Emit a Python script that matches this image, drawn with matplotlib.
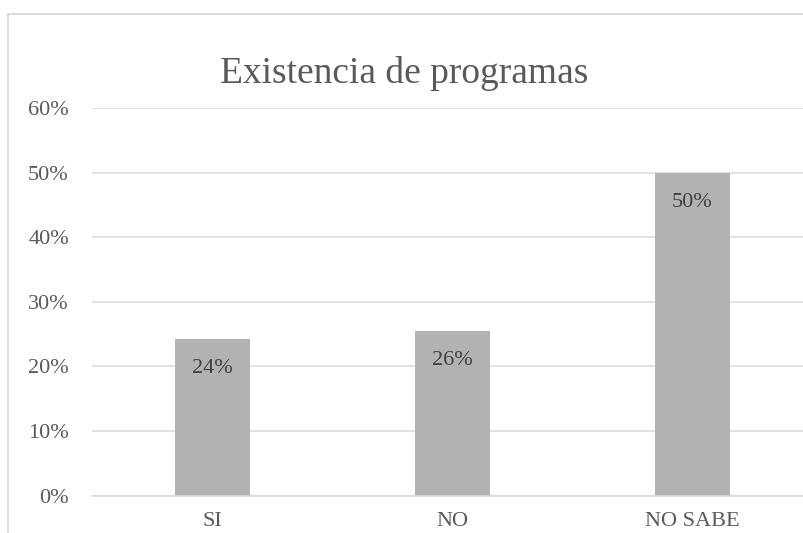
import matplotlib
matplotlib.use("Agg")
import matplotlib.pyplot as plt
from matplotlib.patches import Rectangle
from matplotlib.ticker import PercentFormatter

categories = ["SI", "NO", "NO SABE"]
values = [0.2427, 0.2556, 0.50]
labels = ["24%", "26%", "50%"]
yticks = [0, 0.1, 0.2, 0.3, 0.4, 0.5, 0.6]

plt.rcParams['font.family'] = ['Liberation Serif', 'DejaVu Serif']
text_color = '#595959'
grid_color = '#D9D9D9'
bar_color = '#B2B2B2'

W, H = 804, 533
fig = plt.figure(figsize=(W / 100, H / 100), dpi=100)

# chart area border
fig.patches.append(Rectangle((8 / W, -0.1), 1.2, (H - 14) / H + 0.1,
                             transform=fig.transFigure, fill=False,
                             edgecolor=grid_color, linewidth=1.3, zorder=0))

left = 92.5 / W
right = 812.5 / W
bottom = (H - 495.7) / H
top = (H - 108) / H
ax = fig.add_axes([left, bottom, right - left, top - bottom])
ax.set_facecolor('none')

x = list(range(len(categories)))
bars = ax.bar(x, values, width=0.3125, color=bar_color, zorder=2)
ax.set_xlim(-0.5, 2.5)
ax.set_ylim(0, 0.6)
ax.set_yticks(yticks)
ax.yaxis.set_major_formatter(PercentFormatter(1.0, decimals=0))
ax.set_xticks(x)
ax.set_xticklabels(categories)
ax.grid(axis='y', color=grid_color, linewidth=1.1, zorder=0)
ax.set_axisbelow(True)
for s in ['top', 'right', 'left']:
    ax.spines[s].set_visible(False)
ax.spines['bottom'].set_color(grid_color)
ax.spines['bottom'].set_linewidth(1.1)
ax.tick_params(axis='both', length=0, colors=text_color, labelsize=16)
ax.tick_params(axis='y', pad=17)
ax.tick_params(axis='x', pad=11.5)

for xi, v, lab in zip(x, values, labels):
    ax.annotate(lab, (xi, v), xytext=(0, -21.5), textcoords='offset points',
                ha='center', va='center', fontsize=16, color='#404040')

fig.text(404 / W, (H - 83) / H, "Existencia de programas", ha='center',
         va='baseline', fontsize=27, color=text_color)

fig.savefig("out.png", dpi=100)
